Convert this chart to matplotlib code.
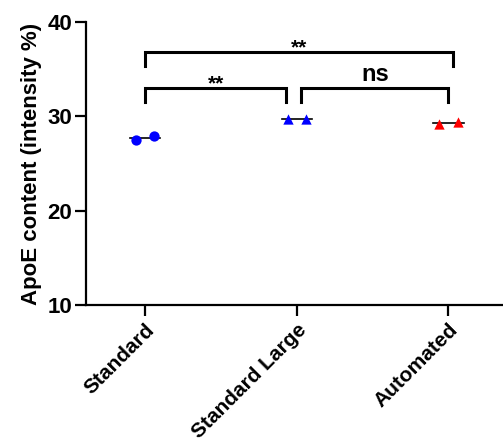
import matplotlib.pyplot as plt

plt.rcParams['font.family'] = ['Liberation Sans', 'DejaVu Sans']
plt.rcParams['font.weight'] = 'bold'

groups = ["Standard", "Standard Large", "Automated"]
standard = [27.5, 27.9]
standard_large = [29.7, 29.7]
automated = [29.2, 29.4]
medians = [27.7, 29.7, 29.3]

# comparisons: (left group, right group, bar height, label)
comparisons = [(0, 2.03, 36.8, "**"), (0, 0.93, 33.0, "**"), (1.03, 2.0, 33.0, "ns")]

fig = plt.figure(figsize=(5.03, 4.48), dpi=100)
ax = fig.add_axes([0.171, 0.319, 0.829, 0.632])

series = [(standard, "o", "blue"), (standard_large, "^", "blue"), (automated, "^", "red")]
for i, (vals, mk, col) in enumerate(series):
    xs = [i - 0.06, i + 0.06]
    ax.plot([i - 0.1, i + 0.1], [medians[i]] * 2, color="black", lw=1.2, zorder=2)
    ax.scatter(xs, vals, marker=mk, s=55, color=col, zorder=3, linewidths=0)

for x1, x2, h, lab in comparisons:
    ax.plot([x1, x1, x2, x2], [h - 1.5, h, h, h - 1.5], color="black", lw=2.2,
            solid_joinstyle="miter", clip_on=False)
    if lab == "ns":
        ax.text((x1 + x2) / 2, h + 0.2, lab, ha="center", va="bottom", fontsize=17, fontweight="bold")
    else:
        ax.text((x1 + x2) / 2, h - 0.6, lab, ha="center", va="bottom", fontsize=15, fontweight="bold")

ax.set_xlim(-0.39, 2.36)
ax.set_ylim(10, 40)
ax.set_yticks([10, 20, 30, 40])
ax.set_xticks(range(3))
ax.set_xticklabels(groups, rotation=45, ha="right", rotation_mode="anchor", fontsize=15, fontweight="bold")
ax.tick_params(axis="y", labelsize=16, width=1.6, length=8, pad=2)
ax.tick_params(axis="x", width=1.6, length=8, pad=3)
for lbl in ax.get_yticklabels():
    lbl.set_fontweight("bold")
ax.set_ylabel("ApoE content (intensity %)", fontsize=16, fontweight="bold", labelpad=4)
ax.spines["top"].set_visible(False)
ax.spines["right"].set_visible(False)
ax.spines["left"].set_linewidth(1.6)
ax.spines["bottom"].set_linewidth(1.6)

fig.savefig("out.png", dpi=100)
